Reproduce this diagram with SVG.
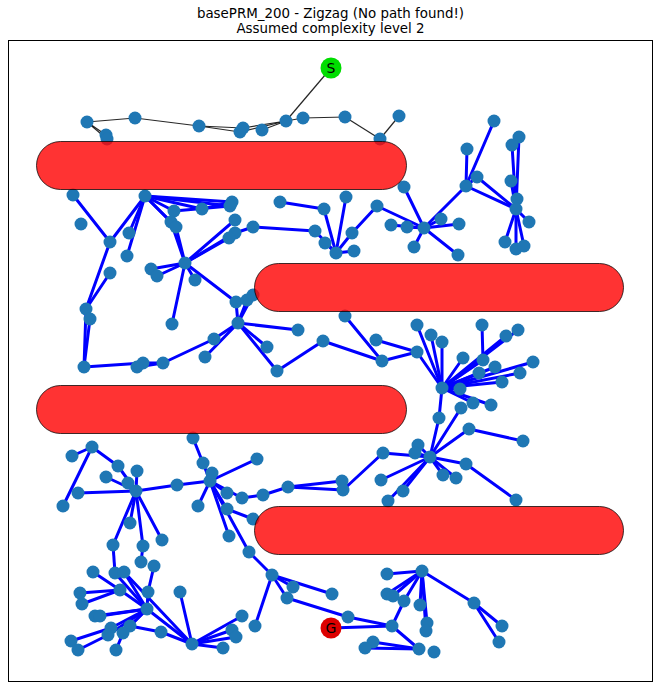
<svg xmlns="http://www.w3.org/2000/svg" width="661" height="688" viewBox="0 0 661 688">
<style>
.t{font-family:"DejaVu Sans",sans-serif;font-size:13.4px;fill:#000;text-anchor:middle}
.e line{stroke:#0000ff;stroke-width:3;stroke-linecap:round}
.k line{stroke:#000;stroke-width:1.2;stroke-opacity:0.85}
.n circle{fill:#1f77b4}
.o{fill:#ff0000;fill-opacity:0.8;stroke:#000;stroke-opacity:0.75;stroke-width:1}
.lb{font-family:"DejaVu Sans",sans-serif;font-size:14px;fill:#000;text-anchor:middle}
</style>
<rect x="0" y="0" width="661" height="688" fill="#fff"/>
<text class="t" x="330.5" y="17.5">basePRM_200 - Zigzag (No path found!)</text>
<text class="t" x="330.5" y="33">Assumed complexity level 2</text>
<rect x="8.5" y="40.5" width="644" height="641" fill="#fff" stroke="#000" stroke-width="1"/>
<g id="connectors">
<g class="k">
<line x1="87" y1="122" x2="135" y2="118"/><line x1="87" y1="122" x2="106" y2="135"/><line x1="87" y1="122" x2="107" y2="139"/>
<line x1="135" y1="118" x2="199" y2="126"/><line x1="199" y1="126" x2="240" y2="132"/><line x1="199" y1="126" x2="243" y2="128"/>
<line x1="240" y1="132" x2="286" y2="121"/><line x1="243" y1="128" x2="286" y2="121"/><line x1="262" y1="130" x2="286" y2="121"/>
<line x1="286" y1="121" x2="303" y2="118"/><line x1="303" y1="118" x2="345" y2="117"/><line x1="345" y1="117" x2="380" y2="139"/>
<line x1="380" y1="139" x2="399" y2="116"/><line x1="331" y1="68" x2="286" y2="121"/>
</g>
<g class="e">
<line x1="73" y1="195" x2="110" y2="242"/><line x1="145" y1="196" x2="110" y2="242"/><line x1="145" y1="196" x2="129" y2="233"/>
<line x1="145" y1="196" x2="127" y2="256"/><line x1="145" y1="196" x2="174" y2="211"/><line x1="145" y1="196" x2="171" y2="222"/>
<line x1="145" y1="196" x2="176" y2="227"/><line x1="145" y1="196" x2="202" y2="209"/><line x1="145" y1="196" x2="232" y2="202"/>
<line x1="145" y1="196" x2="230" y2="206"/><line x1="202" y1="209" x2="232" y2="202"/><line x1="174" y1="211" x2="230" y2="206"/>
<line x1="176" y1="227" x2="185" y2="263"/><line x1="171" y1="222" x2="185" y2="263"/><line x1="185" y1="263" x2="235" y2="220"/>
<line x1="185" y1="263" x2="235" y2="233"/><line x1="185" y1="263" x2="229" y2="238"/><line x1="185" y1="263" x2="151" y2="269"/>
<line x1="185" y1="263" x2="157" y2="276"/><line x1="185" y1="263" x2="195" y2="280"/><line x1="185" y1="263" x2="172" y2="324"/>
<line x1="185" y1="263" x2="236" y2="302"/><line x1="235" y1="233" x2="253" y2="227"/><line x1="110" y1="242" x2="86" y2="309"/>
<line x1="110" y1="273" x2="86" y2="309"/><line x1="86" y1="309" x2="84" y2="367"/><line x1="90" y1="319" x2="84" y2="367"/>
<line x1="84" y1="367" x2="143" y2="363"/><line x1="143" y1="363" x2="163" y2="363"/><line x1="137" y1="367" x2="163" y2="363"/>
<line x1="163" y1="363" x2="214" y2="339"/><line x1="214" y1="339" x2="238" y2="323"/><line x1="205" y1="357" x2="238" y2="323"/>
<line x1="236" y1="302" x2="238" y2="323"/><line x1="247" y1="300" x2="238" y2="323"/><line x1="253" y1="295" x2="238" y2="323"/>
<line x1="238" y1="323" x2="298" y2="330"/><line x1="238" y1="323" x2="267" y2="347"/><line x1="238" y1="323" x2="277" y2="371"/>
<line x1="280" y1="202" x2="324" y2="209"/><line x1="324" y1="209" x2="336" y2="253"/><line x1="346" y1="197" x2="336" y2="253"/>
<line x1="253" y1="227" x2="315" y2="231"/><line x1="315" y1="231" x2="336" y2="253"/><line x1="325" y1="243" x2="336" y2="253"/>
<line x1="336" y1="253" x2="352" y2="233"/><line x1="336" y1="253" x2="354" y2="251"/><line x1="352" y1="233" x2="377" y2="206"/>
<line x1="377" y1="206" x2="424" y2="228"/><line x1="404" y1="187" x2="424" y2="228"/><line x1="391" y1="225" x2="424" y2="228"/>
<line x1="407" y1="227" x2="424" y2="228"/><line x1="424" y1="228" x2="441" y2="219"/><line x1="424" y1="228" x2="459" y2="224"/>
<line x1="424" y1="228" x2="414" y2="247"/><line x1="424" y1="228" x2="458" y2="255"/><line x1="424" y1="228" x2="466" y2="186"/>
<line x1="466" y1="186" x2="494" y2="121"/><line x1="466" y1="186" x2="467" y2="149"/><line x1="466" y1="186" x2="477" y2="177"/>
<line x1="466" y1="186" x2="516" y2="209"/><line x1="477" y1="177" x2="516" y2="209"/><line x1="512" y1="145" x2="516" y2="209"/>
<line x1="519" y1="137" x2="516" y2="209"/><line x1="511" y1="181" x2="516" y2="209"/><line x1="517" y1="199" x2="516" y2="209"/>
<line x1="516" y1="209" x2="529" y2="222"/><line x1="516" y1="209" x2="505" y2="242"/><line x1="516" y1="209" x2="516" y2="249"/>
<line x1="516" y1="209" x2="524" y2="246"/>
<line x1="277" y1="371" x2="323" y2="341"/><line x1="323" y1="341" x2="382" y2="361"/><line x1="345" y1="316" x2="382" y2="361"/>
<line x1="382" y1="361" x2="417" y2="352"/><line x1="376" y1="340" x2="417" y2="352"/><line x1="417" y1="352" x2="442" y2="388"/>
<line x1="417" y1="325" x2="442" y2="388"/><line x1="431" y1="335" x2="442" y2="388"/><line x1="442" y1="342" x2="442" y2="388"/>
<line x1="482" y1="325" x2="483" y2="360"/><line x1="483" y1="360" x2="442" y2="388"/><line x1="506" y1="336" x2="442" y2="388"/>
<line x1="518" y1="330" x2="442" y2="388"/><line x1="463" y1="358" x2="442" y2="388"/><line x1="495" y1="367" x2="442" y2="388"/>
<line x1="479" y1="373" x2="442" y2="388"/><line x1="533" y1="362" x2="442" y2="388"/><line x1="520" y1="373" x2="442" y2="388"/>
<line x1="502" y1="382" x2="442" y2="388"/><line x1="460" y1="389" x2="442" y2="388"/><line x1="473" y1="403" x2="442" y2="388"/>
<line x1="491" y1="405" x2="442" y2="388"/><line x1="442" y1="388" x2="439" y2="418"/><line x1="439" y1="418" x2="430" y2="457"/>
<line x1="461" y1="408" x2="430" y2="457"/><line x1="469" y1="429" x2="430" y2="457"/><line x1="469" y1="429" x2="523" y2="441"/>
<line x1="418" y1="445" x2="430" y2="457"/><line x1="415" y1="453" x2="430" y2="457"/><line x1="383" y1="453" x2="430" y2="457"/>
<line x1="430" y1="457" x2="466" y2="464"/><line x1="466" y1="464" x2="516" y2="500"/><line x1="381" y1="480" x2="430" y2="457"/>
<line x1="403" y1="491" x2="430" y2="457"/><line x1="388" y1="501" x2="430" y2="457"/><line x1="443" y1="475" x2="430" y2="457"/>
<line x1="456" y1="478" x2="430" y2="457"/><line x1="343" y1="490" x2="383" y2="453"/>
<line x1="72" y1="456" x2="92" y2="447"/><line x1="92" y1="447" x2="118" y2="466"/><line x1="92" y1="447" x2="63" y2="506"/>
<line x1="118" y1="466" x2="136" y2="491"/><line x1="106" y1="477" x2="136" y2="491"/><line x1="137" y1="471" x2="136" y2="491"/>
<line x1="128" y1="483" x2="136" y2="491"/><line x1="78" y1="493" x2="136" y2="491"/><line x1="136" y1="491" x2="177" y2="485"/>
<line x1="177" y1="485" x2="210" y2="481"/><line x1="193" y1="438" x2="203" y2="463"/><line x1="203" y1="463" x2="210" y2="481"/>
<line x1="212" y1="473" x2="210" y2="481"/><line x1="210" y1="481" x2="257" y2="459"/><line x1="210" y1="481" x2="198" y2="506"/>
<line x1="210" y1="481" x2="227" y2="493"/><line x1="210" y1="481" x2="242" y2="498"/><line x1="210" y1="481" x2="227" y2="509"/>
<line x1="210" y1="481" x2="229" y2="536"/><line x1="210" y1="481" x2="249" y2="552"/><line x1="242" y1="498" x2="263" y2="495"/>
<line x1="263" y1="495" x2="288" y2="487"/><line x1="288" y1="487" x2="342" y2="481"/><line x1="288" y1="487" x2="343" y2="490"/>
<line x1="227" y1="509" x2="253" y2="519"/><line x1="249" y1="552" x2="272" y2="575"/>
<line x1="136" y1="491" x2="130" y2="523"/><line x1="136" y1="491" x2="113" y2="545"/><line x1="136" y1="491" x2="143" y2="546"/>
<line x1="136" y1="491" x2="162" y2="540"/><line x1="113" y1="545" x2="115" y2="573"/><line x1="143" y1="546" x2="141" y2="562"/>
<line x1="154" y1="566" x2="148" y2="592"/><line x1="148" y1="592" x2="147" y2="609"/><line x1="115" y1="573" x2="147" y2="609"/>
<line x1="124" y1="572" x2="147" y2="609"/><line x1="124" y1="572" x2="192" y2="644"/><line x1="93" y1="572" x2="120" y2="590"/>
<line x1="80" y1="593" x2="120" y2="590"/><line x1="82" y1="604" x2="120" y2="590"/><line x1="120" y1="590" x2="147" y2="609"/>
<line x1="95" y1="616" x2="147" y2="609"/><line x1="100" y1="616" x2="147" y2="609"/><line x1="111" y1="628" x2="147" y2="609"/>
<line x1="108" y1="635" x2="147" y2="609"/><line x1="130" y1="626" x2="147" y2="609"/><line x1="123" y1="633" x2="147" y2="609"/>
<line x1="71" y1="641" x2="111" y2="628"/><line x1="78" y1="650" x2="108" y2="635"/><line x1="116" y1="650" x2="123" y2="633"/>
<line x1="130" y1="626" x2="161" y2="632"/><line x1="161" y1="632" x2="192" y2="644"/><line x1="147" y1="609" x2="192" y2="644"/>
<line x1="180" y1="592" x2="192" y2="644"/><line x1="192" y1="644" x2="242" y2="616"/><line x1="192" y1="644" x2="232" y2="630"/>
<line x1="192" y1="644" x2="236" y2="637"/><line x1="192" y1="644" x2="223" y2="648"/>
<line x1="272" y1="575" x2="293" y2="587"/><line x1="272" y1="575" x2="332" y2="594"/><line x1="272" y1="575" x2="287" y2="598"/>
<line x1="272" y1="575" x2="255" y2="626"/><line x1="287" y1="598" x2="348" y2="617"/><line x1="348" y1="617" x2="392" y2="626"/>
<line x1="331" y1="628" x2="392" y2="626"/><line x1="392" y1="626" x2="404" y2="601"/><line x1="392" y1="626" x2="419" y2="649"/>
<line x1="373" y1="642" x2="419" y2="649"/><line x1="365" y1="648" x2="419" y2="649"/>
<line x1="387" y1="574" x2="422" y2="571"/><line x1="387" y1="594" x2="422" y2="571"/><line x1="393" y1="596" x2="422" y2="571"/>
<line x1="404" y1="601" x2="422" y2="571"/><line x1="420" y1="605" x2="422" y2="571"/><line x1="427" y1="623" x2="422" y2="571"/>
<line x1="426" y1="631" x2="422" y2="571"/><line x1="422" y1="571" x2="474" y2="603"/><line x1="474" y1="603" x2="502" y2="626"/>
<line x1="474" y1="603" x2="499" y2="642"/>
</g>
</g>
<g id="nodes" class="n">
<g id="n1"><circle cx="87" cy="122" r="6.5"/></g>
<g id="n2"><circle cx="135" cy="118" r="6.5"/></g>
<g id="n3"><circle cx="106" cy="135" r="6.5"/></g>
<g id="n4"><circle cx="107" cy="139" r="6.5"/></g>
<g id="n5"><circle cx="199" cy="126" r="6.5"/></g>
<g id="n6"><circle cx="240" cy="132" r="6.5"/></g>
<g id="n7"><circle cx="243" cy="128" r="6.5"/></g>
<g id="n8"><circle cx="262" cy="130" r="6.5"/></g>
<g id="n9"><circle cx="286" cy="121" r="6.5"/></g>
<g id="n10"><circle cx="303" cy="118" r="6.5"/></g>
<g id="n11"><circle cx="345" cy="117" r="6.5"/></g>
<g id="n12"><circle cx="380" cy="139" r="6.5"/></g>
<g id="n13"><circle cx="399" cy="116" r="6.5"/></g>
<g id="n14"><circle cx="73" cy="195" r="6.5"/></g>
<g id="n15"><circle cx="81" cy="224" r="6.5"/></g>
<g id="n16"><circle cx="110" cy="242" r="6.5"/></g>
<g id="n17"><circle cx="145" cy="196" r="6.5"/></g>
<g id="n18"><circle cx="129" cy="233" r="6.5"/></g>
<g id="n19"><circle cx="127" cy="256" r="6.5"/></g>
<g id="n20"><circle cx="174" cy="211" r="6.5"/></g>
<g id="n21"><circle cx="171" cy="222" r="6.5"/></g>
<g id="n22"><circle cx="176" cy="227" r="6.5"/></g>
<g id="n23"><circle cx="202" cy="209" r="6.5"/></g>
<g id="n24"><circle cx="232" cy="202" r="6.5"/></g>
<g id="n25"><circle cx="230" cy="206" r="6.5"/></g>
<g id="n26"><circle cx="235" cy="220" r="6.5"/></g>
<g id="n27"><circle cx="235" cy="233" r="6.5"/></g>
<g id="n28"><circle cx="229" cy="238" r="6.5"/></g>
<g id="n29"><circle cx="185" cy="263" r="6.5"/></g>
<g id="n30"><circle cx="151" cy="269" r="6.5"/></g>
<g id="n31"><circle cx="157" cy="276" r="6.5"/></g>
<g id="n32"><circle cx="195" cy="280" r="6.5"/></g>
<g id="n33"><circle cx="110" cy="273" r="6.5"/></g>
<g id="n34"><circle cx="86" cy="309" r="6.5"/></g>
<g id="n35"><circle cx="90" cy="319" r="6.5"/></g>
<g id="n36"><circle cx="172" cy="324" r="6.5"/></g>
<g id="n37"><circle cx="236" cy="302" r="6.5"/></g>
<g id="n38"><circle cx="247" cy="300" r="6.5"/></g>
<g id="n39"><circle cx="253" cy="295" r="6.5"/></g>
<g id="n40"><circle cx="238" cy="323" r="6.5"/></g>
<g id="n41"><circle cx="214" cy="339" r="6.5"/></g>
<g id="n42"><circle cx="205" cy="357" r="6.5"/></g>
<g id="n43"><circle cx="163" cy="363" r="6.5"/></g>
<g id="n44"><circle cx="143" cy="363" r="6.5"/></g>
<g id="n45"><circle cx="137" cy="367" r="6.5"/></g>
<g id="n46"><circle cx="84" cy="367" r="6.5"/></g>
<g id="n47"><circle cx="280" cy="202" r="6.5"/></g>
<g id="n48"><circle cx="324" cy="209" r="6.5"/></g>
<g id="n49"><circle cx="346" cy="197" r="6.5"/></g>
<g id="n50"><circle cx="253" cy="227" r="6.5"/></g>
<g id="n51"><circle cx="315" cy="231" r="6.5"/></g>
<g id="n52"><circle cx="325" cy="243" r="6.5"/></g>
<g id="n53"><circle cx="336" cy="253" r="6.5"/></g>
<g id="n54"><circle cx="352" cy="233" r="6.5"/></g>
<g id="n55"><circle cx="354" cy="251" r="6.5"/></g>
<g id="n56"><circle cx="377" cy="206" r="6.5"/></g>
<g id="n57"><circle cx="404" cy="187" r="6.5"/></g>
<g id="n58"><circle cx="391" cy="225" r="6.5"/></g>
<g id="n59"><circle cx="407" cy="227" r="6.5"/></g>
<g id="n60"><circle cx="424" cy="228" r="6.5"/></g>
<g id="n61"><circle cx="441" cy="219" r="6.5"/></g>
<g id="n62"><circle cx="459" cy="224" r="6.5"/></g>
<g id="n63"><circle cx="414" cy="247" r="6.5"/></g>
<g id="n64"><circle cx="458" cy="255" r="6.5"/></g>
<g id="n65"><circle cx="494" cy="121" r="6.5"/></g>
<g id="n66"><circle cx="467" cy="149" r="6.5"/></g>
<g id="n67"><circle cx="519" cy="137" r="6.5"/></g>
<g id="n68"><circle cx="512" cy="145" r="6.5"/></g>
<g id="n69"><circle cx="477" cy="177" r="6.5"/></g>
<g id="n70"><circle cx="466" cy="186" r="6.5"/></g>
<g id="n71"><circle cx="511" cy="181" r="6.5"/></g>
<g id="n72"><circle cx="517" cy="199" r="6.5"/></g>
<g id="n73"><circle cx="516" cy="209" r="6.5"/></g>
<g id="n74"><circle cx="529" cy="222" r="6.5"/></g>
<g id="n75"><circle cx="505" cy="242" r="6.5"/></g>
<g id="n76"><circle cx="516" cy="249" r="6.5"/></g>
<g id="n77"><circle cx="524" cy="246" r="6.5"/></g>
<g id="n78"><circle cx="298" cy="330" r="6.5"/></g>
<g id="n79"><circle cx="267" cy="347" r="6.5"/></g>
<g id="n80"><circle cx="277" cy="371" r="6.5"/></g>
<g id="n81"><circle cx="323" cy="341" r="6.5"/></g>
<g id="n82"><circle cx="345" cy="316" r="6.5"/></g>
<g id="n83"><circle cx="376" cy="340" r="6.5"/></g>
<g id="n84"><circle cx="382" cy="361" r="6.5"/></g>
<g id="n85"><circle cx="417" cy="352" r="6.5"/></g>
<g id="n86"><circle cx="417" cy="325" r="6.5"/></g>
<g id="n87"><circle cx="431" cy="335" r="6.5"/></g>
<g id="n88"><circle cx="442" cy="342" r="6.5"/></g>
<g id="n89"><circle cx="442" cy="388" r="6.5"/></g>
<g id="n90"><circle cx="482" cy="325" r="6.5"/></g>
<g id="n91"><circle cx="483" cy="360" r="6.5"/></g>
<g id="n92"><circle cx="506" cy="336" r="6.5"/></g>
<g id="n93"><circle cx="518" cy="330" r="6.5"/></g>
<g id="n94"><circle cx="463" cy="358" r="6.5"/></g>
<g id="n95"><circle cx="495" cy="367" r="6.5"/></g>
<g id="n96"><circle cx="479" cy="373" r="6.5"/></g>
<g id="n97"><circle cx="533" cy="362" r="6.5"/></g>
<g id="n98"><circle cx="520" cy="373" r="6.5"/></g>
<g id="n99"><circle cx="502" cy="382" r="6.5"/></g>
<g id="n100"><circle cx="460" cy="389" r="6.5"/></g>
<g id="n101"><circle cx="473" cy="403" r="6.5"/></g>
<g id="n102"><circle cx="491" cy="405" r="6.5"/></g>
<g id="n103"><circle cx="461" cy="408" r="6.5"/></g>
<g id="n104"><circle cx="439" cy="418" r="6.5"/></g>
<g id="n105"><circle cx="469" cy="429" r="6.5"/></g>
<g id="n106"><circle cx="523" cy="441" r="6.5"/></g>
<g id="n107"><circle cx="430" cy="457" r="6.5"/></g>
<g id="n108"><circle cx="418" cy="445" r="6.5"/></g>
<g id="n109"><circle cx="415" cy="453" r="6.5"/></g>
<g id="n110"><circle cx="383" cy="453" r="6.5"/></g>
<g id="n111"><circle cx="466" cy="464" r="6.5"/></g>
<g id="n112"><circle cx="516" cy="500" r="6.5"/></g>
<g id="n113"><circle cx="381" cy="480" r="6.5"/></g>
<g id="n114"><circle cx="403" cy="491" r="6.5"/></g>
<g id="n115"><circle cx="388" cy="501" r="6.5"/></g>
<g id="n116"><circle cx="443" cy="475" r="6.5"/></g>
<g id="n117"><circle cx="456" cy="478" r="6.5"/></g>
<g id="n118"><circle cx="72" cy="456" r="6.5"/></g>
<g id="n119"><circle cx="92" cy="447" r="6.5"/></g>
<g id="n120"><circle cx="118" cy="466" r="6.5"/></g>
<g id="n121"><circle cx="106" cy="477" r="6.5"/></g>
<g id="n122"><circle cx="137" cy="471" r="6.5"/></g>
<g id="n123"><circle cx="128" cy="483" r="6.5"/></g>
<g id="n124"><circle cx="78" cy="493" r="6.5"/></g>
<g id="n125"><circle cx="63" cy="506" r="6.5"/></g>
<g id="n126"><circle cx="136" cy="491" r="6.5"/></g>
<g id="n127"><circle cx="177" cy="485" r="6.5"/></g>
<g id="n128"><circle cx="193" cy="438" r="6.5"/></g>
<g id="n129"><circle cx="203" cy="463" r="6.5"/></g>
<g id="n130"><circle cx="212" cy="473" r="6.5"/></g>
<g id="n131"><circle cx="210" cy="481" r="6.5"/></g>
<g id="n132"><circle cx="198" cy="506" r="6.5"/></g>
<g id="n133"><circle cx="227" cy="493" r="6.5"/></g>
<g id="n134"><circle cx="242" cy="498" r="6.5"/></g>
<g id="n135"><circle cx="227" cy="509" r="6.5"/></g>
<g id="n136"><circle cx="229" cy="536" r="6.5"/></g>
<g id="n137"><circle cx="249" cy="552" r="6.5"/></g>
<g id="n138"><circle cx="257" cy="459" r="6.5"/></g>
<g id="n139"><circle cx="263" cy="495" r="6.5"/></g>
<g id="n140"><circle cx="288" cy="487" r="6.5"/></g>
<g id="n141"><circle cx="342" cy="481" r="6.5"/></g>
<g id="n142"><circle cx="343" cy="490" r="6.5"/></g>
<g id="n143"><circle cx="253" cy="519" r="6.5"/></g>
<g id="n144"><circle cx="130" cy="523" r="6.5"/></g>
<g id="n145"><circle cx="113" cy="545" r="6.5"/></g>
<g id="n146"><circle cx="143" cy="546" r="6.5"/></g>
<g id="n147"><circle cx="162" cy="540" r="6.5"/></g>
<g id="n148"><circle cx="141" cy="562" r="6.5"/></g>
<g id="n149"><circle cx="154" cy="566" r="6.5"/></g>
<g id="n150"><circle cx="93" cy="572" r="6.5"/></g>
<g id="n151"><circle cx="115" cy="573" r="6.5"/></g>
<g id="n152"><circle cx="124" cy="572" r="6.5"/></g>
<g id="n153"><circle cx="120" cy="590" r="6.5"/></g>
<g id="n154"><circle cx="148" cy="592" r="6.5"/></g>
<g id="n155"><circle cx="80" cy="593" r="6.5"/></g>
<g id="n156"><circle cx="82" cy="604" r="6.5"/></g>
<g id="n157"><circle cx="180" cy="592" r="6.5"/></g>
<g id="n158"><circle cx="147" cy="609" r="6.5"/></g>
<g id="n159"><circle cx="95" cy="616" r="6.5"/></g>
<g id="n160"><circle cx="100" cy="616" r="6.5"/></g>
<g id="n161"><circle cx="111" cy="628" r="6.5"/></g>
<g id="n162"><circle cx="108" cy="635" r="6.5"/></g>
<g id="n163"><circle cx="130" cy="626" r="6.5"/></g>
<g id="n164"><circle cx="123" cy="633" r="6.5"/></g>
<g id="n165"><circle cx="161" cy="632" r="6.5"/></g>
<g id="n166"><circle cx="71" cy="641" r="6.5"/></g>
<g id="n167"><circle cx="78" cy="650" r="6.5"/></g>
<g id="n168"><circle cx="116" cy="650" r="6.5"/></g>
<g id="n169"><circle cx="192" cy="644" r="6.5"/></g>
<g id="n170"><circle cx="242" cy="616" r="6.5"/></g>
<g id="n171"><circle cx="232" cy="630" r="6.5"/></g>
<g id="n172"><circle cx="236" cy="637" r="6.5"/></g>
<g id="n173"><circle cx="223" cy="648" r="6.5"/></g>
<g id="n174"><circle cx="272" cy="575" r="6.5"/></g>
<g id="n175"><circle cx="293" cy="587" r="6.5"/></g>
<g id="n176"><circle cx="287" cy="598" r="6.5"/></g>
<g id="n177"><circle cx="332" cy="594" r="6.5"/></g>
<g id="n178"><circle cx="255" cy="626" r="6.5"/></g>
<g id="n179"><circle cx="348" cy="617" r="6.5"/></g>
<g id="n180"><circle cx="392" cy="626" r="6.5"/></g>
<g id="n181"><circle cx="387" cy="574" r="6.5"/></g>
<g id="n182"><circle cx="422" cy="571" r="6.5"/></g>
<g id="n183"><circle cx="387" cy="594" r="6.5"/></g>
<g id="n184"><circle cx="393" cy="596" r="6.5"/></g>
<g id="n185"><circle cx="404" cy="601" r="6.5"/></g>
<g id="n186"><circle cx="420" cy="605" r="6.5"/></g>
<g id="n187"><circle cx="427" cy="623" r="6.5"/></g>
<g id="n188"><circle cx="426" cy="631" r="6.5"/></g>
<g id="n189"><circle cx="373" cy="642" r="6.5"/></g>
<g id="n190"><circle cx="365" cy="648" r="6.5"/></g>
<g id="n191"><circle cx="419" cy="649" r="6.5"/></g>
<g id="n192"><circle cx="434" cy="652" r="6.5"/></g>
<g id="n193"><circle cx="474" cy="603" r="6.5"/></g>
<g id="n194"><circle cx="502" cy="626" r="6.5"/></g>
<g id="n195"><circle cx="499" cy="642" r="6.5"/></g>
</g>
<g id="obstacles">
<rect class="o" x="36.5" y="141.5" width="370" height="48" rx="24" ry="24"/>
<rect class="o" x="254.5" y="263.5" width="369" height="48" rx="24" ry="24"/>
<rect class="o" x="36.5" y="385.5" width="370" height="48" rx="24" ry="24"/>
<rect class="o" x="254.5" y="506.5" width="369" height="48" rx="24" ry="24"/>
</g>
<g id="start">
<circle cx="331" cy="68" r="10.5" fill="#00dd00"/>
<text class="lb" x="331" y="73">S</text>
</g>
<g id="goal">
<circle cx="331" cy="628" r="10.5" fill="#dd0000"/>
<text class="lb" x="331" y="633">G</text>
</g>
</svg>
